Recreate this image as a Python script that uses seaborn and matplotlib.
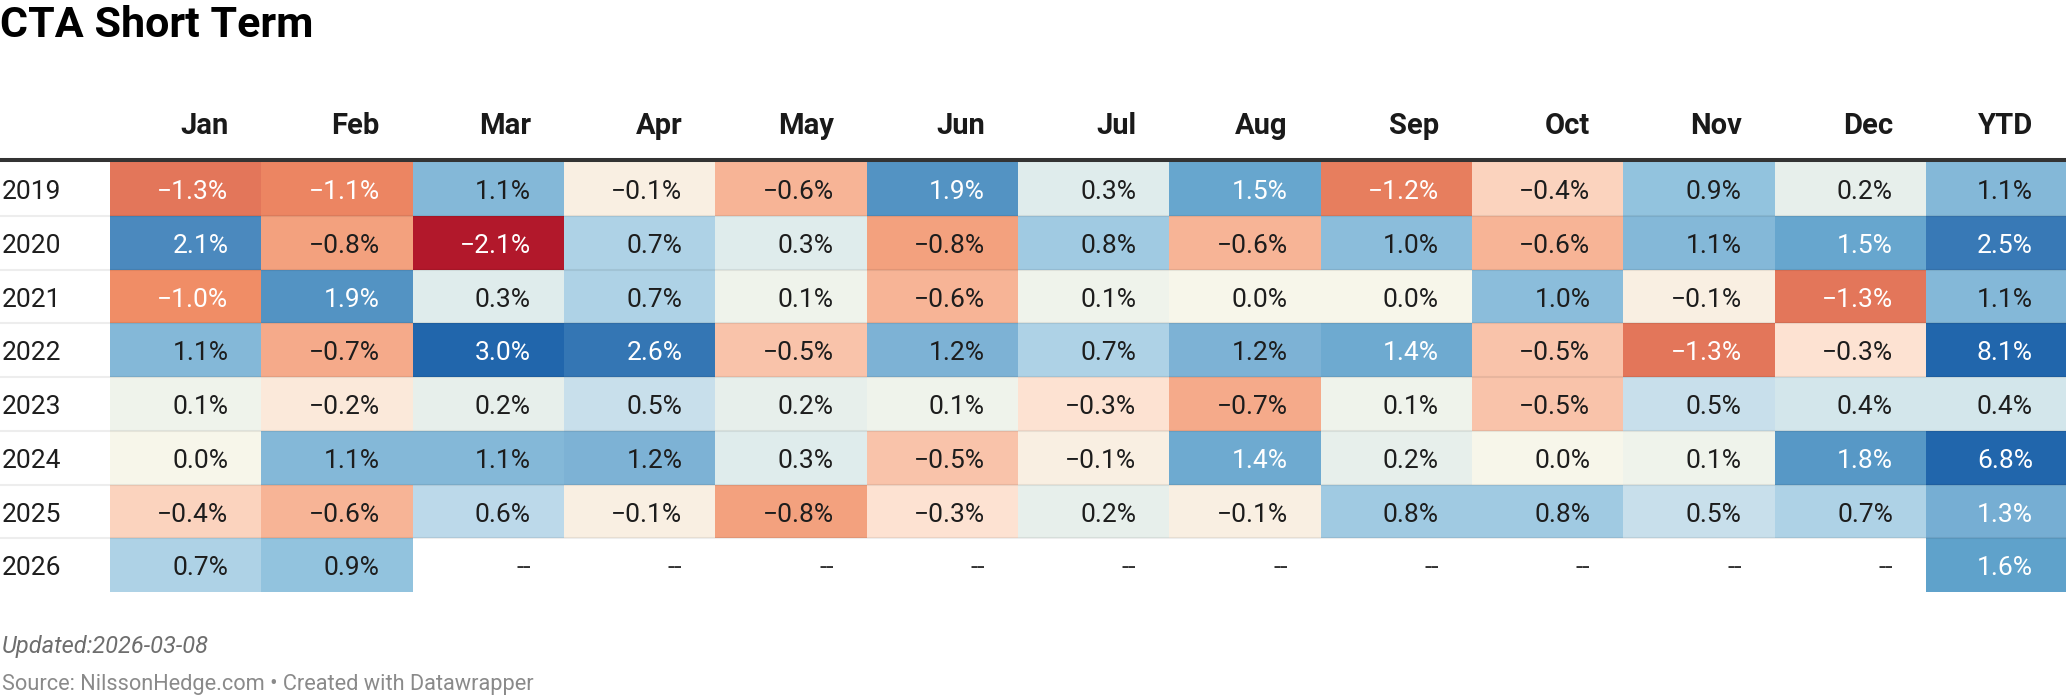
import numpy as np
import pandas as pd
import matplotlib
matplotlib.use('Agg')
import matplotlib.pyplot as plt
import seaborn as sns
from matplotlib.colors import LinearSegmentedColormap
from matplotlib.lines import Line2D
from matplotlib.transforms import blended_transform_factory

years = ['2019', '2020', '2021', '2022', '2023', '2024', '2025', '2026']
months = ['Jan', 'Feb', 'Mar', 'Apr', 'May', 'Jun', 'Jul', 'Aug', 'Sep', 'Oct', 'Nov', 'Dec']

r2019 = [-1.3, -1.1, 1.1, -0.1, -0.6, 1.9, 0.3, 1.5, -1.2, -0.4, 0.9, 0.2]
r2020 = [2.1, -0.8, -2.1, 0.7, 0.3, -0.8, 0.8, -0.6, 1.0, -0.6, 1.1, 1.5]
r2021 = [-1.0, 1.9, 0.3, 0.7, 0.1, -0.6, 0.1, 0.0, 0.0, 1.0, -0.1, -1.3]
r2022 = [1.1, -0.7, 3.0, 2.6, -0.5, 1.2, 0.7, 1.2, 1.4, -0.5, -1.3, -0.3]
r2023 = [0.1, -0.2, 0.2, 0.5, 0.2, 0.1, -0.3, -0.7, 0.1, -0.5, 0.5, 0.4]
r2024 = [0.0, 1.1, 1.1, 1.2, 0.3, -0.5, -0.1, 1.4, 0.2, 0.0, 0.1, 1.8]
r2025 = [-0.4, -0.6, 0.6, -0.1, -0.8, -0.3, 0.2, -0.1, 0.8, 0.8, 0.5, 0.7]
r2026 = [0.7, 0.9] + [np.nan] * 10
ytd = [1.1, 2.5, 1.1, 8.1, 0.4, 6.8, 1.3, 1.6]

df = pd.DataFrame([r2019, r2020, r2021, r2022, r2023, r2024, r2025, r2026],
                  index=years, columns=months)
ytd_df = pd.DataFrame({'YTD': ytd}, index=years)

# colour stops (value -> colour)
vmin, vmax = -2.1, 3.0
stops = [(-2.1, '#b2182b'), (-1.3, '#e3765a'), (-1.0, '#f08d66'), (-0.6, '#f7b496'),
         (-0.3, '#fde2d2'), (0.0, '#f7f6ea'), (0.3, '#dfecec'), (0.6, '#bcd9ea'),
         (0.9, '#92c3de'), (1.2, '#7db2d5'), (1.6, '#5fa2cb'), (2.1, '#4b89be'),
         (3.0, '#2166ac')]
cmap = LinearSegmentedColormap.from_list('dw', [((v - vmin) / (vmax - vmin), c) for v, c in stops])

plt.rcParams['font.family'] = 'Roboto'

W, H = 2066, 696
fig = plt.figure(figsize=(W / 100, H / 100), dpi=100)
top, bot = 162, 592
left, split, right = 110, 1926, 2066
rowh = (bot - top) / len(years)

ax = fig.add_axes([left / W, 1 - bot / H, (split - left) / W, (bot - top) / H])
ax2 = fig.add_axes([split / W, 1 - bot / H, (right - split) / W, (bot - top) / H])

sns.heatmap(df, ax=ax, cmap=cmap, vmin=vmin, vmax=vmax, cbar=False,
            xticklabels=False, yticklabels=False)
sns.heatmap(ytd_df, ax=ax2, cmap=cmap, vmin=vmin, vmax=vmax, cbar=False,
            xticklabels=False, yticklabels=False)
for a in (ax, ax2):
    a.set_xlabel('')
    a.set_ylabel('')
    a.tick_params(length=0)


def fmt(v):
    return '{:.1f}%'.format(v).replace('-', '\u2212')


def txt_color(v):
    return 'white' if (v <= -1.0 or v >= 1.3) else '#1d1d1d'


fy = lambda px: 1 - px / H
base_off = 0.69  # baseline offset inside a row

for a, frame, pad_px, colw in ((ax, df, 33, (split - left) / 12), (ax2, ytd_df, 33, (right - split))):
    pad = pad_px / colw
    tr = blended_transform_factory(a.transData, fig.transFigure)
    for j, col in enumerate(frame.columns):
        a.text(j + 1 - pad, fy(134), col, transform=tr, ha='right', va='baseline',
               fontsize=21, fontweight='bold', color='#1a1a1a', clip_on=False)
        for i, yr in enumerate(frame.index):
            v = frame.loc[yr, col]
            if np.isnan(v):
                a.text(j + 1 - pad, i + base_off, '--', ha='right', va='baseline',
                       fontsize=19, color='#333333')
            else:
                a.text(j + 1 - pad, i + base_off, fmt(v), ha='right', va='baseline',
                       fontsize=19, color=txt_color(v))

# year labels
ytr = blended_transform_factory(fig.transFigure, ax.transData)
for i, yr in enumerate(years):
    ax.text(2 / W, i + base_off, yr, transform=ytr, ha='left', va='baseline',
            fontsize=19, color='#1d1d1d', clip_on=False)

# header rule and row separators
fig.add_artist(Line2D([0, 1], [fy(160), fy(160)], color='#333333', linewidth=2.9))
for i in range(1, len(years)):
    yy = fy(top + i * rowh)
    fig.add_artist(Line2D([0, 1], [yy, yy], color='black', alpha=0.07, linewidth=1.5))

fig.text(0, fy(37), 'CTA Short Term', fontsize=31, fontweight='bold', color='#000000',
         ha='left', va='baseline')
fig.text(2 / W, fy(653), 'Updated:2026-03-08', fontsize=17, fontstyle='italic',
         color='#6e6e6e', ha='left', va='baseline')
fig.text(2 / W, fy(690), 'Source: NilssonHedge.com \u2022 Created with Datawrapper',
         fontsize=15.7, color='#8a8a8a', ha='left', va='baseline')

fig.savefig('out.png', dpi=100)
